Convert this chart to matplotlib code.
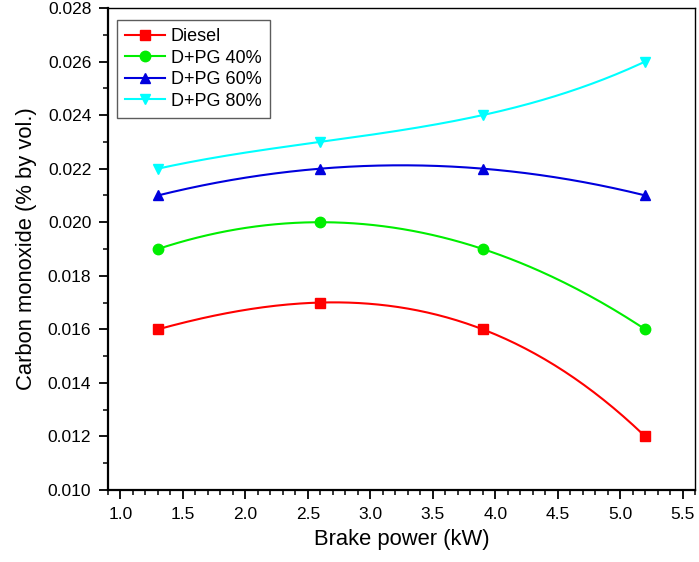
import numpy as np
import matplotlib.pyplot as plt
from matplotlib.ticker import MultipleLocator

plt.rcParams['font.family'] = ['Liberation Sans', 'DejaVu Sans']

# Данные
power = [1.3, 2.6, 3.9, 5.2]
diesel = [0.016, 0.017, 0.016, 0.012]
pg40 = [0.019, 0.020, 0.019, 0.016]
pg60 = [0.021, 0.022, 0.022, 0.021]
pg80 = [0.022, 0.023, 0.024, 0.026]

series = [
    ("Diesel", diesel, "#ff0000", "s"),
    ("D+PG 40%", pg40, "#00ee00", "o"),
    ("D+PG 60%", pg60, "#0000dd", "^"),
    ("D+PG 80%", pg80, "#00ffff", "v"),
]

fig = plt.figure(figsize=(6.99, 5.62), dpi=100)
ax = fig.add_axes([0.1545, 0.1281, 0.84, 0.8577])

x = np.array(power)
xs = np.linspace(x.min(), x.max(), 200)
for name, vals, color, mk in series:
    # сглаженная линия через точки
    coef = np.polyfit(x, vals, 3)
    ax.plot(xs, np.polyval(coef, xs), color=color, lw=1.5)
    ax.plot(x, vals, linestyle='none', marker=mk, color=color, ms=7.5)
    ax.plot([], [], color=color, lw=1.5, marker=mk, ms=7.5, label=name)

ax.set_xlim(0.9, 5.6)
ax.set_ylim(0.010, 0.028)
ax.xaxis.set_major_locator(MultipleLocator(0.5))
ax.xaxis.set_minor_locator(MultipleLocator(0.1))
ax.yaxis.set_major_locator(MultipleLocator(0.002))
ax.yaxis.set_minor_locator(MultipleLocator(0.001))
ax.xaxis.set_major_formatter(plt.FormatStrFormatter('%.1f'))
ax.yaxis.set_major_formatter(plt.FormatStrFormatter('%.3f'))
ax.tick_params(which='major', direction='out', length=6.5, width=1.3, labelsize=12.5, pad=5.5)
ax.tick_params(which='minor', direction='out', length=3.5, width=1.1)
for side in ['left', 'bottom']:
    ax.spines[side].set_linewidth(1.6)
for side in ['right', 'top']:
    ax.spines[side].set_linewidth(1.0)

ax.set_xlabel("Brake power (kW)", fontsize=15.8, labelpad=5)
ax.set_ylabel("Carbon monoxide (% by vol.)", fontsize=15.8, labelpad=8)

leg = ax.legend(loc='upper left', bbox_to_anchor=(0.015, 0.975), borderaxespad=0,
                fontsize=13, frameon=True, fancybox=False, edgecolor='#333333',
                handlelength=2.2, borderpad=0.45, labelspacing=0.25, handletextpad=0.35)
leg.get_frame().set_linewidth(1.0)

fig.savefig("out.png", dpi=100)
